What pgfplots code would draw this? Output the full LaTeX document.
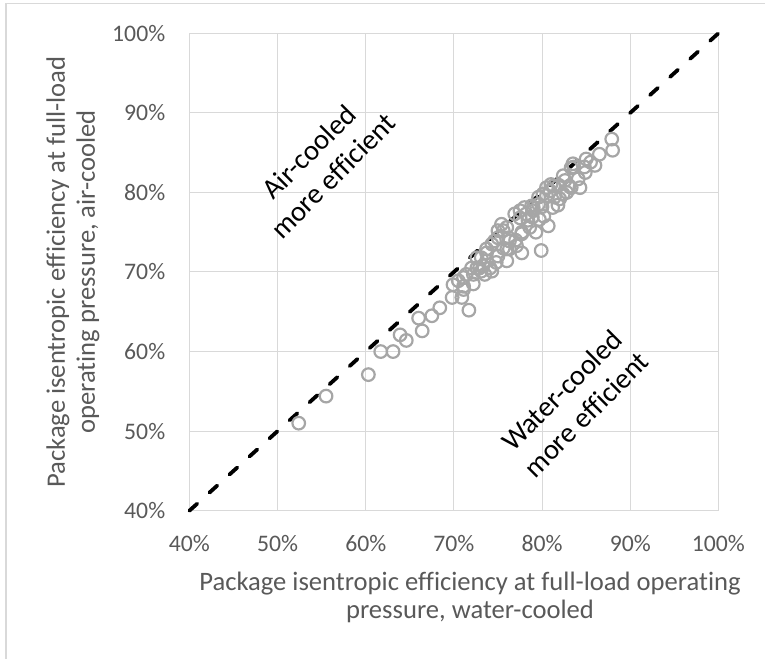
\documentclass[border=0pt]{standalone}
\usepackage{pgfplots}
\pgfplotsset{compat=1.18}
\usepackage{fontspec}
\setmainfont{Carlito}[Ligatures={NoCommon}]
\definecolor{txtgray}{RGB}{89,89,89}
\definecolor{gridgray}{RGB}{217,217,217}
\definecolor{mkgray}{RGB}{166,166,166}
\definecolor{framegray}{RGB}{217,217,217}
\begin{document}
\begin{tikzpicture}
\useasboundingbox (-189.4bp,-148.3bp) rectangle (575.6bp,510.7bp);
\begin{axis}[
  at={(0,0)}, anchor=south west,
  scale only axis,
  width=529bp, height=477.4bp,
  xmin=40, xmax=100, ymin=40, ymax=100,
  xtick={40,50,...,100}, ytick={40,50,...,100},
  xticklabels={40\%,50\%,60\%,70\%,80\%,90\%,100\%},
  yticklabels={40\%,50\%,60\%,70\%,80\%,90\%,100\%},
  /pgf/number format/assume math mode=true,
  grid=major,
  major grid style={gridgray, line width=1bp},
  axis line style={gridgray, line width=1bp},
  major tick length=0pt,
  tick style={draw=none},
  ticklabel style={font=\fontsize{23.7bp}{28bp}\selectfont, text=txtgray, inner sep=0pt},
  xticklabel style={anchor=north, yshift=-24.5bp},
  yticklabel style={anchor=east, xshift=-24bp},
  clip=false,
]
\addplot[only marks, mark=o, mark size=6.3bp, mark options={draw=mkgray, fill=white, line width=2.2bp}] coordinates {
(52.4,51.0) (55.5,54.4) (60.3,57.1) (61.7,60.0) (63.1,60.0) (63.9,62.1) (64.6,61.4)
(66.0,64.2) (66.4,62.6) (67.5,64.5) (68.4,65.5) (69.8,66.8) (71.7,65.2)
(69.9,68.4) (70.5,68.9) (71.1,67.8) (72.2,68.5) (71.4,69.7) (72.0,70.5) (72.6,71.8)
(73.1,70.1) (73.3,70.8) (74.1,70.5) (73.7,72.9) (74.3,73.5) (75.0,72.0) (76.0,71.4)
(76.3,72.9) (77.7,72.4) (75.0,74.3) (76.2,74.3) (77.7,74.8) (70.9,66.8) (71.1,68.2)
(72.6,70.5) (74.3,70.1) (73.7,71.4) (72.2,69.7) (71.1,69.3) (73.5,69.7) (72.9,70.5)
(73.1,71.8) (73.7,72.4) (74.6,73.9) (75.0,75.2) (75.6,75.2) (74.8,71.2) (75.6,73.0)
(79.9,72.7) (75.4,76.0) (76.0,75.6) (76.3,73.9) (76.0,72.9) (77.1,73.3) (77.7,75.0)
(78.6,75.6) (77.5,76.8) (76.9,77.3) (78.2,77.3) (79.0,77.7) (79.7,76.6) (80.7,75.8)
(79.6,78.5) (80.1,79.8) (80.9,80.2) (81.2,78.1) (81.4,79.4) (82.4,79.8) (82.4,82.1)
(83.1,80.8) (84.3,80.6) (84.1,81.7) (84.8,83.2) (86.0,83.4) (85.5,83.8) (86.5,84.8)
(87.9,86.7) (88.0,85.3) (83.6,83.2) (82.6,81.5) (82.8,80.0) (83.3,80.6) (80.5,79.6)
(79.6,79.4) (81.8,78.4) (79.0,78.1) (83.3,83.1) (83.5,83.6) (81.3,80.8) (80.5,80.6)
(77.5,77.7) (78.0,78.1) (78.8,78.3) (81.0,81.0) (84.9,82.5) (80.2,77.0) (78.4,76.5)
(77.0,74.0) (78.9,76.9) (80.0,78.2) (81.9,80.9) (82.0,79.2) (85.0,84.2) (79.3,75.0)
};
\addplot[black, line width=3.8bp, dash pattern=on 10.5bp off 16.48bp, line cap=round] coordinates {(40,40) (100,100)};
\node[rotate=45, align=center, font=\fontsize{28.6bp}{34bp}\selectfont, text=black, inner sep=0pt] at (axis cs:54.9,83.6) {Air-cooled\\more efficient};
\node[rotate=45, align=center, font=\fontsize{28.6bp}{34bp}\selectfont, text=black, inner sep=0pt] at (axis cs:83.6,53.6) {Water-cooled\\more efficient};
\end{axis}
\node[rotate=90, align=center, font=\fontsize{26.6bp}{30bp}\selectfont, text=txtgray, inner sep=0pt] at (-116.4bp,238.7bp) {Package isentropic efficiency at full-load\\operating pressure, air-cooled};
\node[align=center, font=\fontsize{26.6bp}{28bp}\selectfont, text=txtgray, inner sep=0pt] at (280.6bp,-86.5bp) {Package isentropic efficiency at full-load operating\\pressure, water-cooled};
\draw[framegray, line width=1.5bp] (-183.4bp,-148.3bp) -- (-183.4bp,507.4bp) -- (575.6bp,507.4bp);
\end{tikzpicture}
\end{document}
